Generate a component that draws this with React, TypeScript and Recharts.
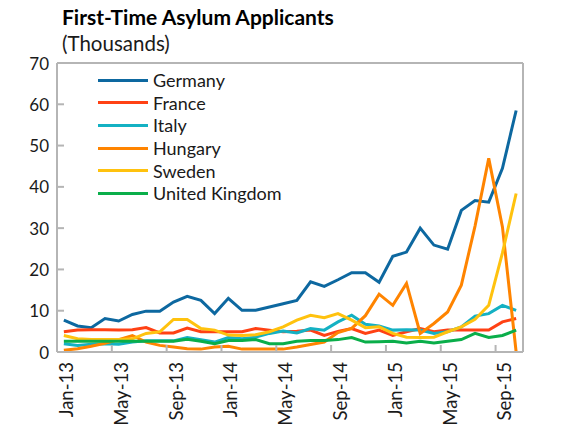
import { Line, LineChart, ReferenceLine, XAxis, YAxis } from "recharts";

const MONTHS = [
  "Jan-13", "Feb-13", "Mar-13", "Apr-13", "May-13", "Jun-13", "Jul-13", "Aug-13", "Sep-13", "Oct-13", "Nov-13", "Dec-13",
  "Jan-14", "Feb-14", "Mar-14", "Apr-14", "May-14", "Jun-14", "Jul-14", "Aug-14", "Sep-14", "Oct-14", "Nov-14", "Dec-14",
  "Jan-15", "Feb-15", "Mar-15", "Apr-15", "May-15", "Jun-15", "Jul-15", "Aug-15", "Sep-15", "Oct-15",
];

const GERMANY = [
  7.7, 6.3, 5.9, 8.1, 7.5, 9.1, 9.9, 9.9, 12.1, 13.5, 12.5, 9.3,
  13.0, 10.1, 10.1, 10.9, 11.7, 12.5, 17.0, 15.9, 17.5, 19.2, 19.2, 16.9,
  23.2, 24.2, 30.0, 25.9, 24.9, 34.3, 36.7, 36.3, 44.5, 58.5,
];
const FRANCE = [
  4.9, 5.3, 5.4, 5.4, 5.3, 5.4, 5.9, 4.6, 4.6, 5.8, 4.9, 4.9,
  4.9, 4.9, 5.7, 5.3, 4.9, 5.0, 5.3, 4.0, 5.0, 5.7, 4.5, 5.3,
  4.0, 4.9, 5.7, 4.9, 5.3, 5.3, 5.3, 5.3, 7.3, 8.1,
];
const ITALY = [
  2.0, 1.6, 1.9, 2.0, 1.9, 2.4, 2.7, 2.7, 2.7, 3.5, 3.0, 2.4,
  3.5, 3.2, 3.6, 4.5, 5.1, 4.6, 5.7, 5.3, 7.3, 8.9, 6.7, 6.3,
  5.3, 5.4, 5.3, 4.5, 4.9, 6.1, 8.7, 9.3, 11.3, 10.1,
];
const HUNGARY = [
  0.4, 0.8, 1.4, 2.1, 3.0, 4.0, 2.4, 1.6, 1.2, 0.8, 0.7, 1.2,
  1.4, 0.7, 0.7, 0.7, 0.7, 1.2, 1.8, 2.4, 4.7, 5.7, 8.8, 14.0,
  11.3, 16.6, 4.5, 6.9, 9.7, 16.2, 30.5, 46.9, 30.3, 0,
];
const SWEDEN = [
  4.0, 3.2, 3.0, 3.0, 3.0, 3.2, 4.5, 4.9, 7.9, 7.9, 5.7, 5.3,
  4.1, 4.0, 4.2, 4.9, 6.1, 7.7, 8.9, 8.3, 9.3, 7.7, 5.9, 6.1,
  4.5, 3.6, 3.5, 3.6, 4.9, 6.1, 7.9, 11.3, 24.0, 38.4,
];
const UK = [
  2.6, 2.6, 2.6, 2.6, 2.6, 2.6, 2.6, 2.6, 2.6, 3.1, 2.6, 2.0,
  2.8, 2.8, 3.0, 2.0, 2.0, 2.6, 2.8, 2.8, 3.0, 3.5, 2.4, 2.5,
  2.6, 2.2, 2.6, 2.2, 2.6, 3.0, 4.5, 3.5, 4.0, 5.3,
];

const Y_TICKS = [0, 10, 20, 30, 40, 50, 60, 70];
const X_TICKS = [0, 4, 8, 12, 16, 20, 24, 28, 32];

const SERIES = [
  { key: "Germany", values: GERMANY, color: "#0d68a0" },
  { key: "France", values: FRANCE, color: "#ff4114" },
  { key: "Italy", values: ITALY, color: "#14b1c3" },
  { key: "Hungary", values: HUNGARY, color: "#ff8400" },
  { key: "Sweden", values: SWEDEN, color: "#ffc20e" },
  { key: "United Kingdom", values: UK, color: "#0aae4a" },
];

const data = MONTHS.map((m, i) => {
  const row: Record<string, number | string> = { x: i + 0.5, month: m };
  SERIES.forEach((s) => (row[s.key] = s.values[i]));
  return row;
});

const W = 578;
const H = 437;
const LEFT = 57;
const RIGHT = 55;
const TOP = 63;
const BOTTOM = 85;
const HALF_CAT = (W - LEFT - RIGHT) / MONTHS.length / 2;
const FONT = "Lato, 'Open Sans', sans-serif";
const AXIS = "#b5b5b5";
const TEXT = "#1a1a1a";

function LeftTick(props: any) {
  const { x, y, payload } = props;
  return (
    <g>
      <line x1={x + 8} x2={x + 15} y1={y} y2={y} stroke={AXIS} strokeWidth={2} />
      <text x={x} y={y} textAnchor="end" dominantBaseline="central" fontSize={17} fill={TEXT} fontFamily={FONT}>
        {payload.value}
      </text>
    </g>
  );
}

function RightTick(props: any) {
  const { x, y, payload } = props;
  return (
    <g>
      <line x1={x - 11} x2={x - 18} y1={y} y2={y} stroke={AXIS} strokeWidth={2} />
      <text x={x} y={y} textAnchor="start" dominantBaseline="central" fontSize={17} fill={TEXT} fontFamily={FONT}>
        {payload.value}
      </text>
    </g>
  );
}

function BottomTick(props: any) {
  const { x, y, payload } = props;
  const lx = x + HALF_CAT + 2;
  return (
    <g>
      <line x1={x} x2={x} y1={y - 10} y2={y - 17} stroke={AXIS} strokeWidth={2} />
      <text
        x={lx}
        y={y}
        transform={`rotate(-90, ${lx}, ${y})`}
        textAnchor="end"
        dominantBaseline="central"
        fontSize={18.5}
        fill={TEXT}
        fontFamily={FONT}
      >
        {MONTHS[payload.value]}
      </text>
    </g>
  );
}

export default function App() {
  return (
    <div style={{ position: "absolute", left: 0, top: 0, width: W, height: H, background: "#fff" }}>
      <div style={{ position: "absolute", left: 62, top: 4, fontFamily: FONT, fontSize: 21, fontWeight: 700, color: "#000", whiteSpace: "nowrap" }}>
        First-Time Asylum Applicants
      </div>
      <div style={{ position: "absolute", left: 62, top: 31, fontFamily: FONT, fontSize: 20.5, color: TEXT, whiteSpace: "nowrap" }}>
        (Thousands)
      </div>
      <LineChart width={W} height={H} data={data} margin={{ top: TOP, right: 0, bottom: 0, left: 0 }}>
        <XAxis
          dataKey="x"
          type="number"
          domain={[0, MONTHS.length]}
          ticks={X_TICKS}
          height={BOTTOM}
          tickSize={0}
          tickMargin={10}
          tickLine={false}
          axisLine={{ stroke: AXIS, strokeWidth: 2 }}
          tick={<BottomTick />}
          interval={0}
        />
        <YAxis
          yAxisId="left"
          domain={[0, 70]}
          ticks={Y_TICKS}
          width={LEFT}
          tickSize={0}
          tickMargin={8}
          tickLine={false}
          axisLine={{ stroke: AXIS, strokeWidth: 2 }}
          tick={<LeftTick />}
          interval={0}
        />
        <YAxis
          yAxisId="right"
          orientation="right"
          domain={[0, 70]}
          ticks={Y_TICKS}
          width={RIGHT}
          tickSize={0}
          tickMargin={11}
          tickLine={false}
          axisLine={{ stroke: AXIS, strokeWidth: 2 }}
          tick={<RightTick />}
          interval={0}
        />
        <ReferenceLine yAxisId="left" y={70} stroke={AXIS} strokeWidth={2} />
        {SERIES.map((s) => (
          <Line
            key={s.key}
            yAxisId="left"
            dataKey={s.key}
            stroke={s.color}
            strokeWidth={3}
            dot={false}
            isAnimationActive={false}
          />
        ))}
      </LineChart>
      <div style={{ position: "absolute", left: 98, top: 69, fontFamily: FONT, fontSize: 18, color: TEXT }}>
        {SERIES.map((s) => (
          <div key={s.key} style={{ display: "flex", alignItems: "center", height: 22.6 }}>
            <div style={{ width: 50, height: 3, background: s.color, marginRight: 5 }} />
            <span>{s.key}</span>
          </div>
        ))}
      </div>
    </div>
  );
}
